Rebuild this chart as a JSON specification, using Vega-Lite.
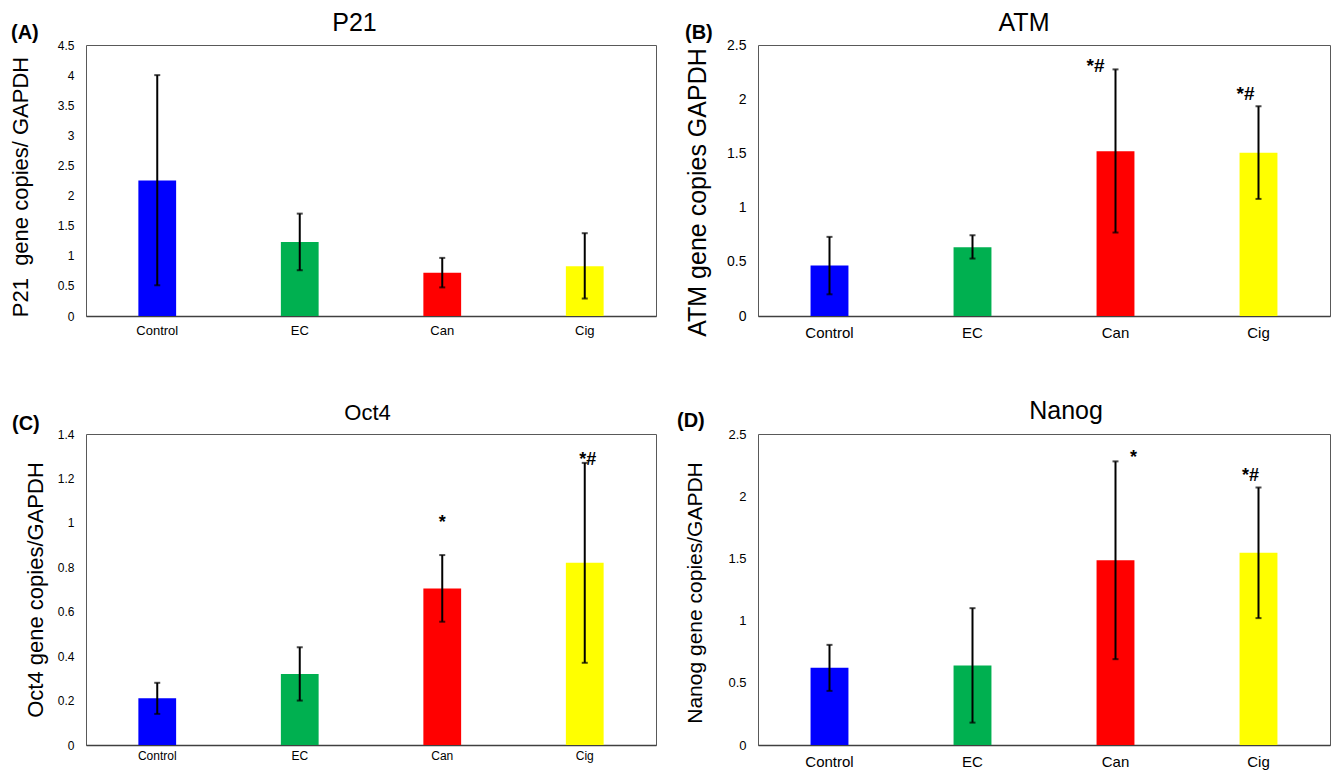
{
  "$schema": "https://vega.github.io/schema/vega-lite/v6.json",
  "padding": {"left": 8, "top": 9, "right": 2, "bottom": 5},
  "background": "white",
  "datasets": {
    "bars": [
      {"panel": "A", "group": "Control", "mean": 2.25, "lo": 0.51, "hi": 4.0},
      {"panel": "A", "group": "EC", "mean": 1.23, "lo": 0.76, "hi": 1.7},
      {"panel": "A", "group": "Can", "mean": 0.72, "lo": 0.475, "hi": 0.965},
      {"panel": "A", "group": "Cig", "mean": 0.825, "lo": 0.29, "hi": 1.375},
      {"panel": "B", "group": "Control", "mean": 0.465, "lo": 0.2, "hi": 0.73},
      {"panel": "B", "group": "EC", "mean": 0.635, "lo": 0.53, "hi": 0.745},
      {"panel": "B", "group": "Can", "mean": 1.52, "lo": 0.77, "hi": 2.275},
      {"panel": "B", "group": "Cig", "mean": 1.505, "lo": 1.08, "hi": 1.935},
      {"panel": "C", "group": "Control", "mean": 0.21, "lo": 0.14, "hi": 0.28},
      {"panel": "C", "group": "EC", "mean": 0.32, "lo": 0.2, "hi": 0.44},
      {"panel": "C", "group": "Can", "mean": 0.705, "lo": 0.555, "hi": 0.855},
      {"panel": "C", "group": "Cig", "mean": 0.82, "lo": 0.37, "hi": 1.27},
      {"panel": "D", "group": "Control", "mean": 0.62, "lo": 0.435, "hi": 0.805},
      {"panel": "D", "group": "EC", "mean": 0.64, "lo": 0.18, "hi": 1.1},
      {"panel": "D", "group": "Can", "mean": 1.485, "lo": 0.69, "hi": 2.28},
      {"panel": "D", "group": "Cig", "mean": 1.545, "lo": 1.02, "hi": 2.07}
    ],
    "notes": [
      {"panel": "B", "group": "Can", "label": "*#", "y": 2.25},
      {"panel": "B", "group": "Cig", "label": "*#", "y": 1.99},
      {"panel": "C", "group": "Can", "label": "*", "y": 0.975},
      {"panel": "C", "group": "Cig", "label": "*#", "y": 1.26},
      {"panel": "D", "group": "Can", "label": "*", "y": 2.27},
      {"panel": "D", "group": "Cig", "label": "*#", "y": 2.12}
    ]
  },
  "columns": 2,
  "spacing": {"column": 102, "row": 118},
  "bounds": "flush",
  "concat": [
    {
      "width": 570, "height": 271,
      "title": {"text": "(A)", "anchor": "start", "frame": "bounds", "fontSize": 20, "fontWeight": "bold", "offset": -33, "dx": 2},
      "resolve": {"axis": {"x": "independent", "y": "independent"}},
      "layer": [
        {"data": {"name": "bars"}, "transform": [{"filter": "datum.panel === 'A'"}],
         "mark": {"type": "bar"},
         "encoding": {
           "x": {"field": "group", "type": "nominal", "sort": ["Control", "EC", "Can", "Cig"], "scale": {"paddingInner": 0.735, "paddingOuter": 0.3675},
                 "axis": {"title": null, "labelAngle": 0, "labelFontSize": 13, "labelPadding": 8, "domain": true, "domainColor": "#404040", "domainWidth": 1.5}},
           "y": {"field": "mean", "type": "quantitative", "scale": {"domain": [0, 4.5], "nice": false},
                 "axis": {"values": [0, 0.5, 1, 1.5, 2, 2.5, 3, 3.5, 4, 4.5], "format": "~g", "labelOverlap": false, "title": "P21\u00a0 gene copies/ GAPDH", "titleFontSize": 22, "titleBaseline": "alphabetic", "titleX": -59, "titleY": 141.5, "labelFontSize": 12, "labelPadding": 12}},
           "color": {"field": "group", "type": "nominal", "scale": {"domain": ["Control", "EC", "Can", "Cig"], "range": ["#0000FF", "#00B050", "#FF0000", "#FFFF00"]}, "legend": null}
         }},
        {"data": {"name": "bars"}, "transform": [{"filter": "datum.panel === 'A'"}],
         "mark": {"type": "rule", "color": "black", "strokeWidth": 2},
         "encoding": {
           "x": {"field": "group", "type": "nominal", "sort": ["Control", "EC", "Can", "Cig"],
                 "axis": {"orient": "top", "labels": false, "ticks": false, "domain": false, "title": "P21", "titleFontSize": 25, "titleFontWeight": "normal", "titleBaseline": "alphabetic", "titleX": 268, "titleY": -15}},
           "y": {"field": "lo", "type": "quantitative", "axis": null},
           "y2": {"field": "hi"}
         }},
        {"data": {"name": "bars"}, "transform": [{"filter": "datum.panel === 'A'"}],
         "mark": {"type": "tick", "color": "black", "thickness": 2, "size": 6},
         "encoding": {"x": {"field": "group", "type": "nominal", "sort": ["Control", "EC", "Can", "Cig"], "axis": null}, "y": {"field": "lo", "type": "quantitative", "axis": null}}},
        {"data": {"name": "bars"}, "transform": [{"filter": "datum.panel === 'A'"}],
         "mark": {"type": "tick", "color": "black", "thickness": 2, "size": 6},
         "encoding": {"x": {"field": "group", "type": "nominal", "sort": ["Control", "EC", "Can", "Cig"], "axis": null}, "y": {"field": "hi", "type": "quantitative", "axis": null}}}
      ]
    },
    {
      "width": 572, "height": 271,
      "title": {"text": "(B)", "anchor": "start", "frame": "bounds", "fontSize": 20, "fontWeight": "bold", "offset": -33, "dx": 0},
      "resolve": {"axis": {"x": "independent", "y": "independent"}},
      "layer": [
        {"data": {"name": "bars"}, "transform": [{"filter": "datum.panel === 'B'"}],
         "mark": {"type": "bar"},
         "encoding": {
           "x": {"field": "group", "type": "nominal", "sort": ["Control", "EC", "Can", "Cig"], "scale": {"paddingInner": 0.735, "paddingOuter": 0.3675},
                 "axis": {"title": null, "labelAngle": 0, "labelFontSize": 15, "labelPadding": 9, "domain": true, "domainColor": "#404040", "domainWidth": 1.5}},
           "y": {"field": "mean", "type": "quantitative", "scale": {"domain": [0, 2.5], "nice": false},
                 "axis": {"values": [0, 0.5, 1, 1.5, 2, 2.5], "format": "~g", "labelOverlap": false, "title": "ATM gene copies GAPDH", "titleFontSize": 25, "titleBaseline": "alphabetic", "titleX": -53, "titleY": 147, "labelFontSize": 14, "labelPadding": 12}},
           "color": {"field": "group", "type": "nominal", "scale": {"domain": ["Control", "EC", "Can", "Cig"], "range": ["#0000FF", "#00B050", "#FF0000", "#FFFF00"]}, "legend": null}
         }},
        {"data": {"name": "bars"}, "transform": [{"filter": "datum.panel === 'B'"}],
         "mark": {"type": "rule", "color": "black", "strokeWidth": 2},
         "encoding": {
           "x": {"field": "group", "type": "nominal", "sort": ["Control", "EC", "Can", "Cig"],
                 "axis": {"orient": "top", "labels": false, "ticks": false, "domain": false, "title": "ATM", "titleFontSize": 25, "titleFontWeight": "normal", "titleBaseline": "alphabetic", "titleX": 265.5, "titleY": -15}},
           "y": {"field": "lo", "type": "quantitative", "axis": null},
           "y2": {"field": "hi"}
         }},
        {"data": {"name": "bars"}, "transform": [{"filter": "datum.panel === 'B'"}],
         "mark": {"type": "tick", "color": "black", "thickness": 2, "size": 6},
         "encoding": {"x": {"field": "group", "type": "nominal", "sort": ["Control", "EC", "Can", "Cig"], "axis": null}, "y": {"field": "lo", "type": "quantitative", "axis": null}}},
        {"data": {"name": "bars"}, "transform": [{"filter": "datum.panel === 'B'"}],
         "mark": {"type": "tick", "color": "black", "thickness": 2, "size": 6},
         "encoding": {"x": {"field": "group", "type": "nominal", "sort": ["Control", "EC", "Can", "Cig"], "axis": null}, "y": {"field": "hi", "type": "quantitative", "axis": null}}},
        {"data": {"name": "notes"}, "transform": [{"filter": "datum.panel === 'B' && datum.group === 'Can'"}],
         "mark": {"type": "text", "fontSize": 19, "fontWeight": "bold", "baseline": "alphabetic", "dx": -20, "color": "black"},
         "encoding": {"x": {"field": "group", "type": "nominal", "sort": ["Control", "EC", "Can", "Cig"], "axis": null}, "y": {"field": "y", "type": "quantitative", "axis": null}, "text": {"field": "label"}}},
        {"data": {"name": "notes"}, "transform": [{"filter": "datum.panel === 'B' && datum.group === 'Cig'"}],
         "mark": {"type": "text", "fontSize": 19, "fontWeight": "bold", "baseline": "alphabetic", "dx": -13, "color": "black"},
         "encoding": {"x": {"field": "group", "type": "nominal", "sort": ["Control", "EC", "Can", "Cig"], "axis": null}, "y": {"field": "y", "type": "quantitative", "axis": null}, "text": {"field": "label"}}}
      ]
    },
    {
      "width": 570, "height": 311,
      "title": {"text": "(C)", "anchor": "start", "frame": "bounds", "fontSize": 20, "fontWeight": "bold", "offset": -33, "dx": -12},
      "resolve": {"axis": {"x": "independent", "y": "independent"}},
      "layer": [
        {"data": {"name": "bars"}, "transform": [{"filter": "datum.panel === 'C'"}],
         "mark": {"type": "bar"},
         "encoding": {
           "x": {"field": "group", "type": "nominal", "sort": ["Control", "EC", "Can", "Cig"], "scale": {"paddingInner": 0.735, "paddingOuter": 0.3675},
                 "axis": {"title": null, "labelAngle": 0, "labelFontSize": 12, "labelPadding": 5, "domain": true, "domainColor": "#404040", "domainWidth": 1.5}},
           "y": {"field": "mean", "type": "quantitative", "scale": {"domain": [0, 1.4], "nice": false},
                 "axis": {"values": [0, 0.2, 0.4, 0.6, 0.8, 1, 1.2, 1.4], "format": "~g", "labelOverlap": false, "title": "Oct4 gene copies/GAPDH", "titleFontSize": 22, "titleBaseline": "alphabetic", "titleX": -44, "titleY": 155.5, "labelFontSize": 12, "labelPadding": 12}},
           "color": {"field": "group", "type": "nominal", "scale": {"domain": ["Control", "EC", "Can", "Cig"], "range": ["#0000FF", "#00B050", "#FF0000", "#FFFF00"]}, "legend": null}
         }},
        {"data": {"name": "bars"}, "transform": [{"filter": "datum.panel === 'C'"}],
         "mark": {"type": "rule", "color": "black", "strokeWidth": 2},
         "encoding": {
           "x": {"field": "group", "type": "nominal", "sort": ["Control", "EC", "Can", "Cig"],
                 "axis": {"orient": "top", "labels": false, "ticks": false, "domain": false, "title": "Oct4", "titleFontSize": 22, "titleFontWeight": "normal", "titleBaseline": "alphabetic", "titleX": 281, "titleY": -15}},
           "y": {"field": "lo", "type": "quantitative", "axis": null},
           "y2": {"field": "hi"}
         }},
        {"data": {"name": "bars"}, "transform": [{"filter": "datum.panel === 'C'"}],
         "mark": {"type": "tick", "color": "black", "thickness": 2, "size": 6},
         "encoding": {"x": {"field": "group", "type": "nominal", "sort": ["Control", "EC", "Can", "Cig"], "axis": null}, "y": {"field": "lo", "type": "quantitative", "axis": null}}},
        {"data": {"name": "bars"}, "transform": [{"filter": "datum.panel === 'C'"}],
         "mark": {"type": "tick", "color": "black", "thickness": 2, "size": 6},
         "encoding": {"x": {"field": "group", "type": "nominal", "sort": ["Control", "EC", "Can", "Cig"], "axis": null}, "y": {"field": "hi", "type": "quantitative", "axis": null}}},
        {"data": {"name": "notes"}, "transform": [{"filter": "datum.panel === 'C' && datum.group === 'Can'"}],
         "mark": {"type": "text", "fontSize": 18, "fontWeight": "bold", "baseline": "alphabetic", "dx": 0, "color": "black"},
         "encoding": {"x": {"field": "group", "type": "nominal", "sort": ["Control", "EC", "Can", "Cig"], "axis": null}, "y": {"field": "y", "type": "quantitative", "axis": null}, "text": {"field": "label"}}},
        {"data": {"name": "notes"}, "transform": [{"filter": "datum.panel === 'C' && datum.group === 'Cig'"}],
         "mark": {"type": "text", "fontSize": 18, "fontWeight": "bold", "baseline": "alphabetic", "dx": 3, "color": "black"},
         "encoding": {"x": {"field": "group", "type": "nominal", "sort": ["Control", "EC", "Can", "Cig"], "axis": null}, "y": {"field": "y", "type": "quantitative", "axis": null}, "text": {"field": "label"}}}
      ]
    },
    {
      "width": 572, "height": 311,
      "title": {"text": "(D)", "anchor": "start", "frame": "bounds", "fontSize": 20, "fontWeight": "bold", "offset": -33, "dx": -7},
      "resolve": {"axis": {"x": "independent", "y": "independent"}},
      "layer": [
        {"data": {"name": "bars"}, "transform": [{"filter": "datum.panel === 'D'"}],
         "mark": {"type": "bar"},
         "encoding": {
           "x": {"field": "group", "type": "nominal", "sort": ["Control", "EC", "Can", "Cig"], "scale": {"paddingInner": 0.735, "paddingOuter": 0.3675},
                 "axis": {"title": null, "labelAngle": 0, "labelFontSize": 15, "labelPadding": 9, "domain": true, "domainColor": "#404040", "domainWidth": 1.5}},
           "y": {"field": "mean", "type": "quantitative", "scale": {"domain": [0, 2.5], "nice": false},
                 "axis": {"values": [0, 0.5, 1, 1.5, 2, 2.5], "format": "~g", "labelOverlap": false, "title": "Nanog gene copies/GAPDH", "titleFontSize": 21, "titleBaseline": "alphabetic", "titleX": -57, "titleY": 158.5, "labelFontSize": 13, "labelPadding": 12}},
           "color": {"field": "group", "type": "nominal", "scale": {"domain": ["Control", "EC", "Can", "Cig"], "range": ["#0000FF", "#00B050", "#FF0000", "#FFFF00"]}, "legend": null}
         }},
        {"data": {"name": "bars"}, "transform": [{"filter": "datum.panel === 'D'"}],
         "mark": {"type": "rule", "color": "black", "strokeWidth": 2},
         "encoding": {
           "x": {"field": "group", "type": "nominal", "sort": ["Control", "EC", "Can", "Cig"],
                 "axis": {"orient": "top", "labels": false, "ticks": false, "domain": false, "title": "Nanog", "titleFontSize": 25, "titleFontWeight": "normal", "titleBaseline": "alphabetic", "titleX": 307.5, "titleY": -16}},
           "y": {"field": "lo", "type": "quantitative", "axis": null},
           "y2": {"field": "hi"}
         }},
        {"data": {"name": "bars"}, "transform": [{"filter": "datum.panel === 'D'"}],
         "mark": {"type": "tick", "color": "black", "thickness": 2, "size": 6},
         "encoding": {"x": {"field": "group", "type": "nominal", "sort": ["Control", "EC", "Can", "Cig"], "axis": null}, "y": {"field": "lo", "type": "quantitative", "axis": null}}},
        {"data": {"name": "bars"}, "transform": [{"filter": "datum.panel === 'D'"}],
         "mark": {"type": "tick", "color": "black", "thickness": 2, "size": 6},
         "encoding": {"x": {"field": "group", "type": "nominal", "sort": ["Control", "EC", "Can", "Cig"], "axis": null}, "y": {"field": "hi", "type": "quantitative", "axis": null}}},
        {"data": {"name": "notes"}, "transform": [{"filter": "datum.panel === 'D' && datum.group === 'Can'"}],
         "mark": {"type": "text", "fontSize": 18, "fontWeight": "bold", "baseline": "alphabetic", "dx": 18, "color": "black"},
         "encoding": {"x": {"field": "group", "type": "nominal", "sort": ["Control", "EC", "Can", "Cig"], "axis": null}, "y": {"field": "y", "type": "quantitative", "axis": null}, "text": {"field": "label"}}},
        {"data": {"name": "notes"}, "transform": [{"filter": "datum.panel === 'D' && datum.group === 'Cig'"}],
         "mark": {"type": "text", "fontSize": 18, "fontWeight": "bold", "baseline": "alphabetic", "dx": -8, "color": "black"},
         "encoding": {"x": {"field": "group", "type": "nominal", "sort": ["Control", "EC", "Can", "Cig"], "axis": null}, "y": {"field": "y", "type": "quantitative", "axis": null}, "text": {"field": "label"}}}
      ]
    }
  ],
  "config": {
    "font": "Liberation Sans",
    "view": {"stroke": "#595959", "strokeWidth": 1},
    "axis": {"grid": false, "ticks": false, "domain": false, "labelColor": "#000000", "titleColor": "#000000", "titleFontWeight": "normal", "labelFont": "Liberation Sans", "titleFont": "Liberation Sans"},
    "title": {"color": "#000000", "font": "Liberation Sans"}
  }
}
